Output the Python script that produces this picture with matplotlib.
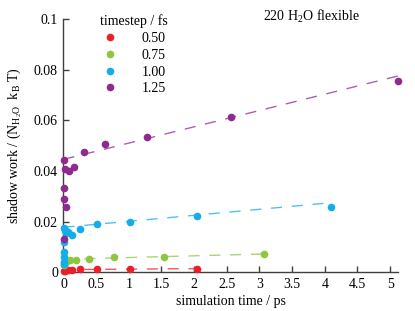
import matplotlib
matplotlib.use('Agg')
import matplotlib.pyplot as plt
import numpy as np

plt.rcParams['font.family'] = 'Liberation Serif'
plt.rcParams['mathtext.default'] = 'regular'
plt.rcParams['lines.scale_dashes'] = False

# timestep / fs labels and colours
timesteps = ['0.50', '0.75', '1.00', '1.25']
colors = ['#e8202a', '#8dc63f', '#13aeea', '#8f2a8f']

# simulation time / ps and shadow work, one list per timestep
red_t = [2.048, 1.024, 0.512, 0.256, 0.128, 0.064, 0.032, 0.016, 0.008]
red_w = [0.0014, 0.0014, 0.0013, 0.0012, 0.0011, 0.0009, 0.0008, 0.0006, 0.0005]

green_t = [3.072, 1.536, 0.768, 0.384, 0.192, 0.096, 0.048, 0.024, 0.012, 0.006]
green_w = [0.0072, 0.0062, 0.0060, 0.0054, 0.0051, 0.0048, 0.0044, 0.0040, 0.0036, 0.0030]

blue_t = [4.096, 2.048, 1.024, 0.512, 0.256, 0.128, 0.064, 0.032, 0.016, 0.008,
          0.004, 0.002, 0.001, 0.0005, 0.00025]
blue_w = [0.0260, 0.0224, 0.0199, 0.0190, 0.0172, 0.0149, 0.0159, 0.0155, 0.0168, 0.0174,
          0.0120, 0.0082, 0.0062, 0.0043, 0.0032]

purple_t = [5.12, 2.56, 1.28, 0.64, 0.32, 0.16, 0.08, 0.04, 0.02, 0.01, 0.005, 0.0025, 0.00125]
purple_w = [0.0755, 0.0615, 0.0535, 0.0507, 0.0474, 0.0416, 0.0402, 0.0260, 0.0410, 0.0335,
            0.0445, 0.0290, 0.0130]

# linear fits (intercept, slope per ps)
fit_intercept = [0.0011, 0.0052, 0.0178, 0.0446]
fit_slope = [0.0002, 0.00068, 0.00237, 0.00643]

series_t = [red_t, green_t, blue_t, purple_t]
series_w = [red_w, green_w, blue_w, purple_w]

fig = plt.figure(figsize=(4.15, 3.11), dpi=100)
ax = fig.add_axes([0.153, 0.124, 0.806, 0.815])

for t, w, c, lab, b0, b1 in zip(series_t, series_w, colors, timesteps, fit_intercept, fit_slope):
    xf = np.array([0, max(t)])
    ax.plot(xf, b0 + b1 * xf, color=c, lw=1.0, alpha=0.75, dashes=(8, 7), zorder=2)
    ax.plot(t, w, 'o', color=c, ms=5.5, mec='none', label=lab, clip_on=False, zorder=3)

ax.set_xlim(0, 5.12)
ax.set_ylim(0, 0.1)
ax.set_xticks(np.arange(0, 5.01, 0.5))
ax.set_yticks(np.arange(0, 0.101, 0.02))
ax.xaxis.set_major_formatter(matplotlib.ticker.FormatStrFormatter('%g'))
ax.yaxis.set_major_formatter(matplotlib.ticker.FuncFormatter(lambda v, p: '%g' % round(v, 3)))
ax.tick_params(direction='in', length=4, width=1, color='#404040', labelsize=10, pad=4)
for s in ['top', 'right']:
    ax.spines[s].set_visible(False)
for s in ['left', 'bottom']:
    ax.spines[s].set_color('#404040')
    ax.spines[s].set_linewidth(1.0)

ax.set_xlabel('simulation time / ps', fontsize=10, labelpad=3)
ax.set_ylabel('shadow work / (N$_{H_2O}$  k$_B$ T)', fontsize=10, labelpad=7)

ax.text(0.741, 1.008, '220 H$_2$O flexible', transform=ax.transAxes, fontsize=10,
        ha='center', va='center')

leg = ax.legend(title='timestep / fs', loc='upper left', bbox_to_anchor=(0.081, 1.056),
                frameon=False, fontsize=10, title_fontsize=10, handlelength=1.0,
                handletextpad=1.77, labelspacing=0.27, borderpad=0.2)

fig.savefig('out.png', dpi=100)
